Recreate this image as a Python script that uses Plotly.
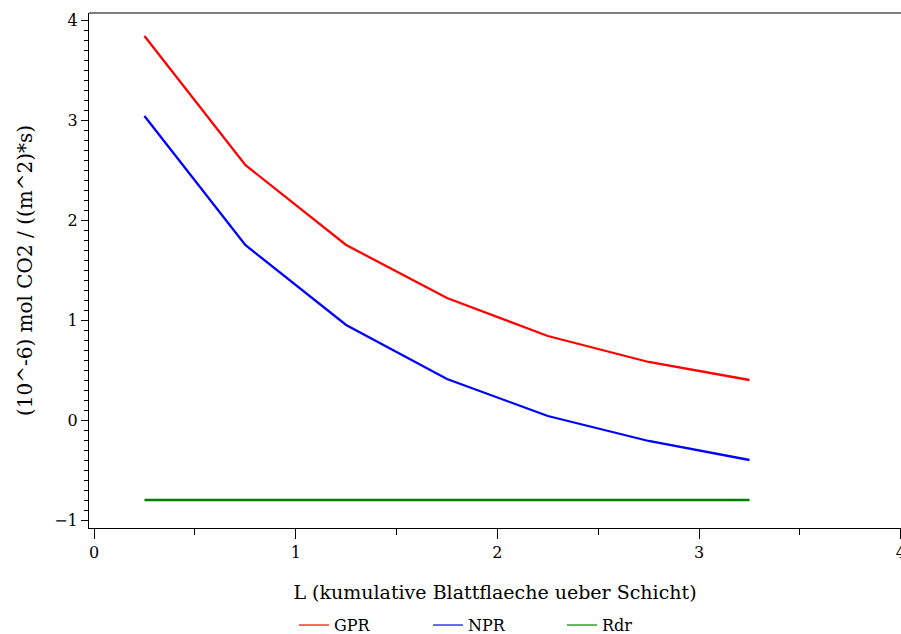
import plotly.graph_objects as go

L = [0.25, 0.75, 1.25, 1.75, 2.25, 2.75, 3.25]
GPR = [3.84, 2.55, 1.75, 1.22, 0.84, 0.58, 0.40]
NPR = [3.04, 1.75, 0.95, 0.41, 0.04, -0.21, -0.40]
Rdr = [-0.80, -0.80, -0.80, -0.80, -0.80, -0.80, -0.80]

names = ["GPR", "NPR", "Rdr"]
colors = ["#ff0000", "#0000ff", "#008000"]
series = [GPR, NPR, Rdr]

x_ticks = [0, 1, 2, 3, 4]
y_ticks = [-1, 0, 1, 2, 3, 4]

FONT = "DejaVu Serif"

fig = go.Figure()
for n, c, s in zip(names, colors, series):
    fig.add_trace(go.Scatter(x=L, y=s, mode="lines", name=n, legendgroup=n,
                             showlegend=False, line=dict(color=c, width=2.3)))
for n, c in zip(names, colors):
    fig.add_trace(go.Scatter(x=[None], y=[None], mode="lines", name=n, legendgroup=n,
                             showlegend=True, line=dict(color=c, width=1.2)))

fig.update_layout(
    width=901, height=634,
    margin=dict(l=89, r=0, t=13, b=106, autoexpand=False),
    plot_bgcolor="white", paper_bgcolor="white",
    font=dict(family=FONT, size=16, color="black"),
    showlegend=True,
    legend=dict(orientation="h", x=0.2525, xanchor="left",
                yref="container", y=0.014, yanchor="middle",
                font=dict(family=FONT, size=16), entrywidth=89),
    xaxis=dict(range=[-0.025, 4.001], tickvals=x_ticks, showgrid=False, zeroline=False,
               showline=True, linecolor="black", linewidth=1, mirror=False,
               ticks="outside", ticklen=10, tickcolor="black", automargin=False,
               tickfont=dict(size=16), ticklabeloverflow="allow",
               minor=dict(dtick=0.5, ticks="outside", ticklen=6, tickcolor="black"),
               title=dict(text="L (kumulative Blattflaeche ueber Schicht)", standoff=24,
                          font=dict(family=FONT, size=19))),
    yaxis=dict(range=[-1.08, 4.07], tickvals=y_ticks, showgrid=False, zeroline=False,
               showline=True, linecolor="black", linewidth=1,
               ticks="outside", ticklen=7, tickcolor="black",
               tickfont=dict(size=16),
               minor=dict(dtick=0.1, ticks="outside", ticklen=4, tickcolor="black"),
               title=dict(text="(10^-6) mol CO2 / ((m^2)*s)", standoff=16,
                          font=dict(family=FONT, size=20))),
)
fig.add_shape(type="line", xref="paper", yref="paper", x0=0, x1=1, y0=1, y1=1,
              line=dict(color="black", width=1))

fig.write_html("out.html")
